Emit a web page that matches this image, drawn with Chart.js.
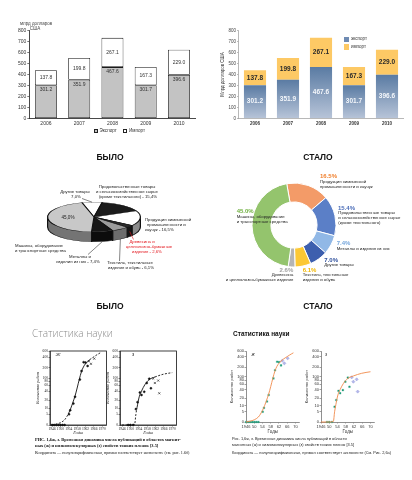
<!DOCTYPE html>
<html lang="ru"><head><meta charset="utf-8">
<script src="https://cdn.jsdelivr.net/npm/chart.js@4.4.1/dist/chart.umd.min.js"></script>
<style>
html,body{margin:0;padding:0;background:#fff}
body{position:relative;width:412px;height:480px;overflow:hidden;font-family:"Liberation Sans",Arial,sans-serif;color:#222}
canvas{position:absolute}
.a{position:absolute;white-space:nowrap;line-height:1;z-index:2}
.sq{position:absolute;z-index:2;box-sizing:border-box}
</style></head><body>
<canvas id="c1" width="206" height="102" style="left:0;top:25px"></canvas>
<canvas id="c2" width="206" height="102" style="left:206px;top:25px"></canvas>
<canvas id="c3" width="100" height="100" style="left:44px;top:167px"></canvas>
<canvas id="c4" width="90" height="90" style="left:249px;top:180px"></canvas>
<canvas id="c5a" width="92" height="90" style="left:19px;top:346px"></canvas>
<canvas id="c5b" width="92" height="90" style="left:89px;top:346px"></canvas>
<canvas id="c6a" width="88" height="88" style="left:216px;top:346px"></canvas>
<canvas id="c6b" width="88" height="88" style="left:291px;top:346px"></canvas>
<script>
// ---------- DATA ----------
const years = ['2006', '2007', '2008', '2009', '2010'];
const exportVals = [301.2, 351.9, 467.6, 301.7, 396.6];
const importVals = [137.8, 199.8, 267.1, 167.3, 229.0];

// structure shares (before pie, clockwise from top)
const pieCats = ['Другие товары', 'Продовольственные товары', 'Продукция химической промышленности', 'Древесина', 'Текстиль', 'Металлы', 'Машины'];
const pieShares = [7.0, 15.4, 16.5, 2.6, 6.1, 7.4, 45.0];
// after doughnut, clockwise from top
const donutCats = ['Химия', 'Продовольствие', 'Металлы', 'Другие товары', 'Текстиль', 'Древесина', 'Машины'];
const donutShares = [16.5, 15.4, 7.4, 7.0, 6.1, 2.6, 45.0];

// science statistics (semi-log charts)
const yearTicks = [1946, 1950, 1954, 1958, 1962, 1966, 1970];
const yearTickShort = ['1946', '50', '54', '58', '62', '66', '70'];
const yearTickFull = ['1946', '1950', '1954', '1958', '1962', '1966', '1970'];
const logTicks = [0, 5, 10, 20, 40, 60, 80, 100, 200, 400, 600];

const curveMYears = [1946, 1948, 1950, 1952, 1953, 1954, 1955, 1956, 1957, 1958, 1959, 1960, 1961, 1962, 1963, 1964, 1965, 1966, 1967, 1968, 1969];
const curveMVals  = [0, 0.3, 0.8, 2, 3.5, 6, 10, 17, 28, 50, 90, 150, 210, 260, 300, 340, 375, 410, 450, 490, 530];
const ptsMYears = [1946, 1947, 1948, 1949, 1950, 1951, 1952, 1954.1, 1954.7, 1956.2, 1957, 1959.3, 1960.1, 1961.1, 1962, 1963];
const ptsMVals  = [0, 0, 0, 0, 0, 0, 0, 5, 8, 15, 26, 90, 160, 288, 280, 224];
const ptsM2Years = [1963.6, 1964.6, 1966.2];
const ptsM2Vals  = [309, 258, 364];

const curveZYears = [1946, 1950, 1952, 1952.6, 1953.2, 1954.2, 1955.3, 1956.9, 1959, 1961.7, 1965.7, 1970];
const curveZVals  = [0, 0, 0.2, 5, 11, 26, 40, 63, 90, 107, 129, 144];
const ptsZYears = [1948.9, 1950, 1951.3, 1952.6, 1953.4, 1954.5, 1955.3, 1956.6, 1957.8, 1959, 1959.8];
const ptsZVals  = [0, 0, 0, 9, 17, 36, 30, 38, 71, 95, 49];
const ptsZ2Years = [1960.9, 1961.7, 1963.3, 1963.8];
const ptsZ2Vals  = [97, 71, 84, 34];

// ---------- SETUP ----------
Chart.defaults.font.family = '"Liberation Sans", Arial, sans-serif';
Chart.defaults.animation = false;
Chart.defaults.responsive = false;
Chart.defaults.events = [];
Chart.defaults.plugins.legend.display = false;
Chart.defaults.plugins.tooltip.enabled = false;

function txt(s, x, y, css, align) {
  const d = document.createElement('div');
  d.className = 'a';
  d.textContent = s;
  d.style.cssText = css || '';
  d.style.left = x + 'px';
  d.style.top = y + 'px';
  const tx = align === 'c' ? '-50%' : align === 'r' ? '-100%' : '0';
  d.style.transform = 'translate(' + tx + ',-50%)';
  document.body.appendChild(d);
}
function sq(x, y, w, h, bg, bd) {
  const d = document.createElement('div');
  d.className = 'sq';
  d.style.cssText = 'left:' + x + 'px;top:' + y + 'px;width:' + w + 'px;height:' + h + 'px;background:' + bg + ';' + (bd ? 'border:0.6px solid ' + bd : '');
  document.body.appendChild(d);
}

function makeBarLabels(styles) {
  return {
    id: 'barLabels',
    afterDatasetsDraw(chart) {
      const ctx = chart.ctx;
      chart.data.datasets.forEach((ds, di) => {
        const st = styles[di];
        chart.getDatasetMeta(di).data.forEach((bar, i) => {
          const p = bar.getProps(['x', 'y', 'base'], true);
          const y = st.mode === 'top' ? p.y + st.dy : (p.y + p.base) / 2;
          ctx.save();
          ctx.font = st.font;
          ctx.fillStyle = st.color;
          ctx.textAlign = 'center';
          ctx.textBaseline = 'middle';
          ctx.fillText(ds.data[i].toFixed(1), p.x, y);
          ctx.restore();
        });
      });
    }
  };
}

// ---------- CHART 1 (before bars) ----------
new Chart(document.getElementById('c1'), {
  type: 'bar',
  data: { labels: years, datasets: [
    { data: exportVals, backgroundColor: '#c3c3c3', borderColor: '#1a1a1a', borderWidth: 0.8, borderSkipped: false, barPercentage: 0.66, categoryPercentage: 1 },
    { data: importVals, backgroundColor: '#ffffff', borderColor: '#1a1a1a', borderWidth: 0.8, borderSkipped: false, barPercentage: 0.66, categoryPercentage: 1 }
  ]},
  options: {
    layout: { padding: { left: 0, top: 5.7, right: 10.4, bottom: 0 } },
    scales: {
      x: { stacked: true, grid: { display: false, drawTicks: false }, border: { display: true, color: '#1a1a1a', width: 0.8 },
           ticks: { font: { size: 5 }, color: '#333', padding: 2 }, afterFit(s) { s.height = 8.7; } },
      y: { stacked: true, min: 0, max: 800, ticks: { stepSize: 100, font: { size: 5 }, color: '#333', padding: 1 },
           grid: { drawOnChartArea: false, tickLength: 2, color: '#1a1a1a', lineWidth: 0.6 }, border: { color: '#1a1a1a', width: 0.8 },
           afterFit(s) { s.width = 29.3; } }
    }
  },
  plugins: [makeBarLabels([
    { mode: 'top', dy: 4.5, font: '5px "Liberation Sans"', color: '#333' },
    { mode: 'mid', font: '5px "Liberation Sans"', color: '#333' }
  ])]
});

// ---------- CHART 2 (after bars) ----------
function blueGrad(c) {
  const chart = c.chart;
  if (!chart.chartArea || c.type !== 'data') return '#7f98bb';
  const y = chart.scales.y;
  const top = y.getPixelForValue(c.raw), base = y.getPixelForValue(0);
  const g = chart.ctx.createLinearGradient(0, top, 0, base);
  g.addColorStop(0, '#5a7ba3');
  g.addColorStop(1, '#b7c4d8');
  return g;
}
new Chart(document.getElementById('c2'), {
  type: 'bar',
  data: { labels: years, datasets: [
    { data: exportVals, backgroundColor: blueGrad, borderWidth: 0, barPercentage: 0.67, categoryPercentage: 1 },
    { data: importVals, backgroundColor: '#fdc965', borderWidth: 0, barPercentage: 0.67, categoryPercentage: 1 }
  ]},
  options: {
    layout: { padding: { left: 14, top: 5.7, right: 8.5, bottom: 0 } },
    scales: {
      x: { stacked: true, grid: { display: false, drawTicks: false }, border: { display: true, color: '#888', width: 0.6 },
           ticks: { font: { size: 4.5, weight: 'bold' }, color: '#333', padding: 2.5 }, afterFit(s) { s.height = 8.7; } },
      y: { stacked: true, min: 0, max: 800, ticks: { stepSize: 100, font: { size: 4.5 }, color: '#444', padding: 1 },
           grid: { drawOnChartArea: false, tickLength: 1.5, color: '#777', lineWidth: 0.5 }, border: { color: '#888', width: 0.6 },
           title: { display: true, text: 'Млрд долларов США', font: { size: 4.5 }, color: '#333', padding: 0 },
           afterFit(s) { s.width = 18.5; } }
    }
  },
  plugins: [makeBarLabels([
    { mode: 'mid', font: 'bold 6.5px "Liberation Sans"', color: '#f4f7fb' },
    { mode: 'mid', font: 'bold 6.5px "Liberation Sans"', color: '#2a2a2a' }
  ])]
});

// ---------- CHART 3 (3D pie) ----------
const pieTop  = ['#ffffff', '#1c1c1c', '#ffffff', '#2b2b2b', '#9c9c9c', '#161616', '#c8c8c8'];
const pieSide = ['#8e8e8e', '#0c0c0c', '#8a8a8a', '#151515', '#6d6d6d', '#0c0c0c', '#747474'];
const PK = 0.32, PDEPTH = 10;
const pie3d = {
  id: 'pie3d',
  beforeDatasetsDraw(chart) {
    const ctx = chart.ctx;
    const meta = chart.getDatasetMeta(0);
    const a0 = meta.data[0];
    const cx = a0.x, cy = a0.y, r = a0.outerRadius;
    const D = PDEPTH / PK;
    ctx.save();
    ctx.translate(cx, cy); ctx.scale(1, PK); ctx.translate(-cx, -cy);
    meta.data.forEach((a, i) => {
      for (let base = -2 * Math.PI; base <= 2 * Math.PI; base += 2 * Math.PI) {
        const s1 = Math.max(a.startAngle, base), e1 = Math.min(a.endAngle, base + Math.PI);
        if (e1 > s1) {
          ctx.beginPath();
          ctx.arc(cx, cy, r, s1, e1);
          ctx.arc(cx, cy + D, r, e1, s1, true);
          ctx.closePath();
          ctx.fillStyle = pieSide[i];
          ctx.fill();
          ctx.lineWidth = 1.2;
          ctx.strokeStyle = '#111';
          ctx.stroke();
        }
      }
    });
  },
  afterDatasetsDraw(chart) { chart.ctx.restore(); }
};
// leader lines: [slice index, from side bottom?, label anchor x, y (page coords), colour]
const leaderSpec = [[0, 0, 82, 198.5, '#333'], [5, 1, 88, 254.5, '#333'], [4, 1, 119.5, 261, '#333'], [3, 0.5, 133.5, 239.5, '#e3161d']];
const pieLeaders = {
  id: 'pieLeaders',
  afterDraw(chart) {
    const ctx = chart.ctx, meta = chart.getDatasetMeta(0);
    const rect = chart.canvas.getBoundingClientRect();
    leaderSpec.forEach(([i, side, ex, ey, col]) => {
      const a = meta.data[i];
      const m = (a.startAngle + a.endAngle) / 2;
      const x = a.x + a.outerRadius * Math.cos(m);
      const y = a.y + PK * a.outerRadius * Math.sin(m) + side * PDEPTH;
      ctx.save();
      ctx.strokeStyle = col; ctx.lineWidth = 0.6;
      ctx.beginPath(); ctx.moveTo(x, y); ctx.lineTo(ex - rect.left, ey - rect.top); ctx.stroke();
      ctx.restore();
    });
  }
};
new Chart(document.getElementById('c3'), {
  type: 'pie',
  data: { labels: pieCats, datasets: [{ data: pieShares, backgroundColor: pieTop, borderColor: '#111', borderWidth: 1.2 }] },
  options: { rotation: -15, layout: { padding: 3 } },
  plugins: [pie3d, pieLeaders]
});

// ---------- CHART 4 (doughnut) ----------
new Chart(document.getElementById('c4'), {
  type: 'doughnut',
  data: { labels: donutCats, datasets: [{ data: donutShares,
    backgroundColor: ['#f39b68', '#5b7fc7', '#91b8e6', '#3d5fae', '#fcc834', '#b5b5b5', '#94c46d'],
    borderColor: '#ffffff', borderWidth: 1 }] },
  options: { rotation: -10, cutout: '55%', layout: { padding: 2.5 } }
});

// ---------- CHARTS 5/6 (semi-log) ----------
const T = v => Math.log10(v + 5);
const toPts = (xs, vs) => xs.map((x, i) => ({ x: x, y: T(vs[i]) }));
const framePlugin = { id: 'frame', afterDraw(chart) {
  const { ctx, chartArea: a } = chart;
  ctx.save(); ctx.strokeStyle = '#111'; ctx.lineWidth = 0.8;
  ctx.strokeRect(a.left, a.top, a.right - a.left, a.bottom - a.top); ctx.restore();
} };
function sciChart(id, o) {
  return new Chart(document.getElementById(id), {
    type: 'scatter',
    data: { datasets: [
      { data: toPts(o.cx, o.cv), showLine: true, borderColor: o.lc, borderWidth: o.lw, pointRadius: 0,
        cubicInterpolationMode: 'monotone', segment: o.segment || {}, clip: false },
      { data: toPts(o.p1x, o.p1v), pointStyle: o.s1, pointRadius: o.r1, pointBackgroundColor: o.f1, pointBorderColor: o.b1, pointBorderWidth: o.bw1, clip: false },
      { data: toPts(o.p2x, o.p2v), pointStyle: o.s2, pointRadius: o.r2, pointBackgroundColor: o.f2, pointBorderColor: o.b2, pointBorderWidth: o.bw2, clip: false }
    ]},
    options: {
      layout: { padding: { left: o.padL, top: 5, right: o.padR, bottom: 0 } },
      scales: {
        x: { type: 'linear', min: o.xmin, max: 1972,
             afterBuildTicks(s) { s.ticks = yearTicks.map(v => ({ value: v })); },
             ticks: { autoSkip: false, maxRotation: 0, font: { size: o.fs, family: o.ff }, color: o.tc, padding: 0.5,
                      callback: (v, i) => o.yl[i] },
             grid: { drawOnChartArea: false, tickLength: 1.5, color: o.ac, lineWidth: 0.5 },
             border: { color: o.ac, width: 0.6 },
             title: { display: true, text: 'Годы', font: { size: 4.5, family: o.ff, style: o.fst }, color: o.tc, padding: 0 },
             afterFit(s) { s.height = o.xh; } },
        y: { min: T(0), max: T(600),
             afterBuildTicks(s) { s.ticks = logTicks.map(v => ({ value: T(v) })); },
             ticks: { autoSkip: false, font: { size: o.fs, family: o.ff }, color: o.tc, padding: 0.5,
                      callback: (v, i) => String(logTicks[i]) },
             grid: { drawOnChartArea: false, tickLength: 1.5, color: o.ac, lineWidth: 0.5 },
             border: { color: o.ac, width: 0.6 },
             title: { display: true, text: 'Количество работ', font: { size: 4, family: o.ff, style: o.fst }, color: o.tc, padding: 0 },
             afterFit(s) { s.width = o.yw; } }
      }
    },
    plugins: o.frame ? [framePlugin] : []
  });
}
const scanBase = { lc: '#111', lw: 0.9, s1: 'circle', r1: 1, f1: '#111', b1: '#111', bw1: 0.5,
  s2: 'crossRot', r2: 1.5, f2: '#111', b2: '#111', bw2: 0.6, padL: 16.6, padR: 3.7, xmin: 1945,
  fs: 3.6, ff: '"Liberation Serif", serif', tc: '#222', ac: '#111', yl: yearTickFull, fst: 'italic', xh: 11, yw: 14.4, frame: true };
sciChart('c5a', Object.assign({}, scanBase, { cx: curveMYears, cv: curveMVals, p1x: ptsMYears, p1v: ptsMVals, p2x: ptsM2Years, p2v: ptsM2Vals,
  segment: { borderDash: c => (c.p0.parsed.x < 1954 || c.p1.parsed.x > 1964) ? [2, 1.5] : undefined } }));
sciChart('c5b', Object.assign({}, scanBase, { cx: curveZYears, cv: curveZVals, p1x: ptsZYears, p1v: ptsZVals, p2x: ptsZ2Years, p2v: ptsZ2Vals,
  segment: { borderDash: c => (c.p0.parsed.x < 1953 || c.p1.parsed.x > 1962) ? [2, 1.5] : undefined } }));
const newBase = { lc: '#f08a4b', lw: 0.9, s1: 'rect', r1: 1.2, f1: '#1f9c7a', b1: '#1f9c7a', bw1: 0.3,
  s2: 'rectRot', r2: 1.6, f2: '#b3b7ea', b2: '#8f95d8', bw2: 0.4, padL: 13.6, padR: 3, xmin: 1946,
  fs: 4, ff: '"Liberation Sans", Arial, sans-serif', tc: '#333', ac: '#444', yl: yearTickShort, fst: 'normal', xh: 12, yw: 16.4, frame: false };
sciChart('c6a', Object.assign({}, newBase, { cx: curveMYears, cv: curveMVals, p1x: ptsMYears, p1v: ptsMVals, p2x: ptsM2Years, p2v: ptsM2Vals }));
sciChart('c6b', Object.assign({}, newBase, { cx: curveZYears, cv: curveZVals, p1x: ptsZYears, p1v: ptsZVals, p2x: ptsZ2Years, p2v: ptsZ2Vals }));

// ---------- TEXT ----------
const S = 'font-size:4.3px;color:#222;';
// panel 1
txt('млрд долларов', 36, 24, 'font-size:4.5px;color:#444', 'c');
txt('США', 35, 28.5, 'font-size:4.5px;color:#444', 'c');
sq(93.5, 129, 4, 4, '#c3c3c3', '#222'); txt('Экспорт', 99.5, 131, 'font-size:4.6px;color:#333');
sq(123, 129, 4, 4, '#ffffff', '#222'); txt('Импорт', 129, 131, 'font-size:4.6px;color:#333');
// panel 2
sq(343.5, 36.5, 5.5, 5.5, '#6f8bb3'); txt('экспорт', 351, 39.2, 'font-size:4.5px;color:#333');
sq(343.5, 44, 5.5, 5.5, '#fdc965'); txt('импорт', 351, 46.8, 'font-size:4.5px;color:#333');
// headings
const H = 'font-size:8.5px;font-weight:bold;color:#111;';
txt('БЫЛО', 110, 157, H, 'c'); txt('СТАЛО', 318, 157, H, 'c');
txt('БЫЛО', 110, 306, H, 'c'); txt('СТАЛО', 318, 306, H, 'c');
// panel 3 labels
txt('Другие товары', 75, 191.5, S, 'c'); txt('7,0%', 76, 196.5, S, 'c');
txt('Продовольственные товары', 127, 187.3, S, 'c');
txt('и сельскохозяйственное сырье', 127, 192.3, S, 'c');
txt('(кроме текстильного) - 15,4%', 128, 197.3, S, 'c');
txt('Продукция химической', 145, 220, S); txt('промышленности и', 147, 225, S); txt('каучук - 16,5%', 145, 230, S);
const R = 'font-size:4.3px;color:#e3161d;';
txt('Древесина и', 142, 241.7, R, 'c'); txt('целлюлозно-бумажные', 149, 246.7, R, 'c'); txt('изделия - 2,6%', 147, 251.7, R, 'c');
txt('Текстиль, текстильные', 130, 263.3, S, 'c'); txt('изделия и обувь - 6,1%', 131, 268.3, S, 'c');
txt('Металлы и', 80, 256.7, S, 'c'); txt('изделия из них - 7,4%', 78, 261.7, S, 'c');
txt('Машины, оборудование', 15, 245.7, S); txt('и транспортные средства', 15, 250.7, S);
txt('45,0%', 68, 218, 'font-size:4.6px;color:#222', 'c');
// panel 4 labels
const P = 'font-size:6px;font-weight:bold;';
txt('16.5%', 320, 175.5, P + 'color:#f07f2c'); txt('Продукция химической', 320, 181.5, S); txt('промышленности и каучук', 320, 186.5, S);
txt('15.4%', 338, 207.5, P + 'color:#4b6db8'); txt('Продовольственные товары', 338.3, 213, S);
txt('и сельскохозяйственное сырье', 338.3, 218, S); txt('(кроме текстильного)', 338.3, 223, S);
txt('7.4%', 336.7, 243, P + 'color:#75a6dc'); txt('Металлы и изделия из них', 336.7, 248.5, S);
txt('7.0%', 324.3, 259.5, P + 'color:#2e4f9c'); txt('Другие товары', 324.3, 265, S);
txt('6.1%', 302.7, 270, P + 'color:#f2b600'); txt('Текстиль, текстильные', 302.7, 275.3, S); txt('изделия и обувь', 302.7, 280.3, S);
txt('2.6%', 293.3, 270, P + 'color:#a0a0a0', 'r'); txt('Древесина', 293.3, 275.3, S, 'r'); txt('и целлюлозно-бумажные изделия', 293.3, 280.3, S, 'r');
txt('45.0%', 236.7, 211, P + 'color:#6fb03f'); txt('Машины, оборудование', 236.7, 216.7, S); txt('и транспортные средства', 236.7, 221.7, S);
// panel 5
txt('Статистика науки', 32, 333, 'font-family:"Open Sans",sans-serif;font-weight:300;font-size:10px;color:#8a8a8a');
const SI = 'font-family:"Liberation Serif",serif;font-style:italic;font-size:5.5px;color:#111;';
txt('ж', 58, 355, SI, 'c'); txt('з', 133, 355, SI, 'c');
const SC = 'font-family:"Liberation Serif",serif;font-size:4.4px;color:#111;font-weight:bold;';
txt('РИС. 1,6ж, з. Временная динамика числа публикаций в областях магнит-', 35, 440, SC);
txt('ных (ж) и низкомолекулярных (з) свойств тонких пленок [3.5]', 35, 445.7, SC);
txt('Координата — полулогарифмическая, прямая соответствует экспоненте (см. рис. 1.6б)', 35, 452.5, 'font-family:"Liberation Serif",serif;font-size:4.2px;color:#111;');
// panel 6
txt('Статистика науки', 233, 334, 'font-size:6.5px;font-weight:bold;color:#111');
const NI = 'font-style:italic;font-size:4.5px;color:#222;';
txt('ж', 253, 355, NI, 'c'); txt('з', 326, 355, NI, 'c');
const NC = 'font-size:3.9px;color:#222;';
txt('Рис. 1,6ж, з. Временная динамика числа публикаций в области', 232, 439.3, NC);
txt('магнитных (ж) и низкомолекулярных (з) свойств тонких пленок [3.5]', 232, 445, NC);
txt('Координата — полулогарифмическая, прямая соответствует экспоненте (См. Рис. 2,6а)', 232, 452.7, NC);
</script>
</body></html>
